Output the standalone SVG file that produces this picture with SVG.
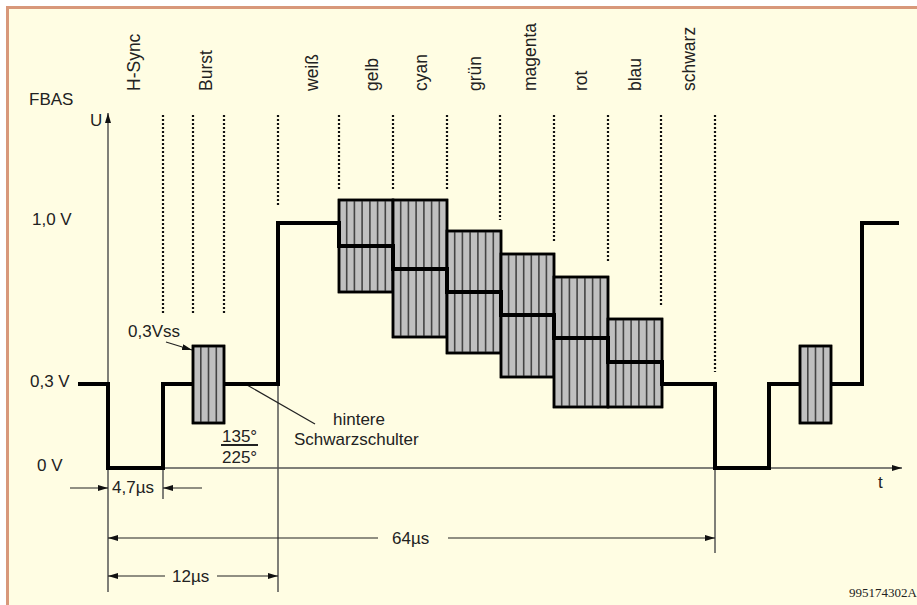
<svg xmlns="http://www.w3.org/2000/svg" width="917" height="605" viewBox="0 0 917 605">
<defs>
<style>
text{font-family:"Liberation Sans",Arial,sans-serif;fill:#222;font-size:17px}
.top{font-size:17.5px}
.dot{stroke:#111;stroke-width:2.2;stroke-dasharray:2 2;fill:none}
.axis{stroke:#555;stroke-width:1.5;fill:none}
.dim{stroke:#222;stroke-width:1.2;fill:none}
.box{fill:#c0c0c0;stroke:#000;stroke-width:2.5}
.str{stroke:#444;stroke-width:1.6}
.sig{stroke:#000;stroke-width:4;fill:none;stroke-linejoin:miter;stroke-linecap:butt}
</style>
<marker id="ah" viewBox="0 0 10 6" refX="10" refY="3" markerWidth="10" markerHeight="6" markerUnits="userSpaceOnUse" orient="auto">
<path d="M0,0 L10,3 L0,6 Z" fill="#111"/>
</marker>
<marker id="ahs" viewBox="0 0 10 6" refX="10" refY="3" markerWidth="10" markerHeight="6" markerUnits="userSpaceOnUse" orient="auto-start-reverse">
<path d="M0,0 L10,3 L0,6 Z" fill="#111"/>
</marker>
</defs>
<rect x="0" y="0" width="917" height="605" fill="#ffffff"/>
<rect x="7.5" y="7.5" width="920" height="610" fill="#fffde3" stroke="#d8987a" stroke-width="3"/>

<g id="labels">
<text x="29" y="105">FBAS</text>
<text x="90" y="126" font-size="16">U</text>
<text x="32" y="225">1,0 V</text>
<text x="30" y="387">0,3 V</text>
<text x="37" y="471">0 V</text>
<text x="878" y="488">t</text>
<g class="top">
<text class="top" transform="translate(140,91) rotate(-90)">H-Sync</text>
<text class="top" transform="translate(212,91) rotate(-90)">Burst</text>
<text class="top" transform="translate(318,91) rotate(-90)">weiß</text>
<text class="top" transform="translate(378,91) rotate(-90)">gelb</text>
<text class="top" transform="translate(427,91) rotate(-90)">cyan</text>
<text class="top" transform="translate(481,91) rotate(-90)">grün</text>
<text class="top" transform="translate(536,91) rotate(-90)">magenta</text>
<text class="top" transform="translate(587,91) rotate(-90)">rot</text>
<text class="top" transform="translate(641,91) rotate(-90)">blau</text>
<text class="top" transform="translate(695,91) rotate(-90)">schwarz</text>
</g>
<text x="128" y="337">0,3Vss</text>
<text x="222" y="442">135°</text>
<text x="222" y="463">225°</text>
<text x="333" y="425">hintere</text>
<text x="294" y="445">Schwarzschulter</text>
<text x="112" y="493">4,7µs</text>
<text x="392" y="544">64µs</text>
<text x="172" y="582">12µs</text>
<text x="849" y="597" style="font-family:'Liberation Serif','Times New Roman',serif;font-size:13px">995174302A</text>
</g>

<g id="dotted">
<line class="dot" x1="163" y1="115" x2="163" y2="315"/>
<line class="dot" x1="193" y1="115" x2="193" y2="315"/>
<line class="dot" x1="224" y1="115" x2="224" y2="315"/>
<line class="dot" x1="278" y1="115" x2="278" y2="205"/>
<line class="dot" x1="339" y1="115" x2="339" y2="189"/>
<line class="dot" x1="393" y1="115" x2="393" y2="189"/>
<line class="dot" x1="447" y1="115" x2="447" y2="190"/>
<line class="dot" x1="500" y1="115" x2="500" y2="220"/>
<line class="dot" x1="554" y1="115" x2="554" y2="243"/>
<line class="dot" x1="608" y1="115" x2="608" y2="263"/>
<line class="dot" x1="661" y1="115" x2="661" y2="307"/>
<line class="dot" x1="715" y1="115" x2="715" y2="372"/>
</g>

<g id="connectors">
<line class="axis" x1="108" y1="592" x2="108" y2="113" marker-end="url(#ah)"/>
<line class="axis" x1="108" y1="468" x2="902" y2="468" marker-end="url(#ah)"/>
<line class="axis" x1="163" y1="468" x2="163" y2="499"/>
<line class="axis" x1="278" y1="384" x2="278" y2="592"/>
<line class="axis" x1="715" y1="468" x2="715" y2="553"/>
<line class="dim" x1="70" y1="488" x2="108" y2="488" marker-end="url(#ah)"/>
<line class="dim" x1="202" y1="488" x2="163" y2="488" marker-end="url(#ah)"/>
<line class="dim" x1="378" y1="538" x2="108" y2="538" marker-end="url(#ah)"/>
<line class="dim" x1="448" y1="538" x2="715" y2="538" marker-end="url(#ah)"/>
<line class="dim" x1="165" y1="576" x2="108" y2="576" marker-end="url(#ah)"/>
<line class="dim" x1="217" y1="576" x2="278" y2="576" marker-end="url(#ah)"/>
<line class="dim" x1="166" y1="342" x2="192" y2="350" marker-end="url(#ah)"/>
<line class="dim" x1="247" y1="385" x2="315" y2="424"/>
<line x1="221" y1="445" x2="258" y2="445" stroke="#222" stroke-width="2"/>
</g>

<g id="colorbars">
<g id="bar-gelb">
<rect class="box" x="339" y="200" width="54" height="92"/>
<path class="str" d="M346.7,201V291M354.4,201V291M362.1,201V291M369.9,201V291M377.6,201V291M385.3,201V291"/>
<rect x="339" y="200" width="54" height="92" fill="none" stroke="#000" stroke-width="2.5"/>
</g>
<g id="bar-cyan">
<rect class="box" x="393" y="200" width="54" height="137"/>
<path class="str" d="M400.7,201V336M408.4,201V336M416.1,201V336M423.9,201V336M431.6,201V336M439.3,201V336"/>
<rect x="393" y="200" width="54" height="137" fill="none" stroke="#000" stroke-width="2.5"/>
</g>
<g id="bar-gruen">
<rect class="box" x="447" y="231" width="54" height="122"/>
<path class="str" d="M454.7,232V352M462.4,232V352M470.1,232V352M477.9,232V352M485.6,232V352M493.3,232V352"/>
<rect x="447" y="231" width="54" height="122" fill="none" stroke="#000" stroke-width="2.5"/>
</g>
<g id="bar-magenta">
<rect class="box" x="501" y="254" width="53" height="123"/>
<path class="str" d="M508.6,255V376M516.1,255V376M523.7,255V376M531.3,255V376M538.9,255V376M546.4,255V376"/>
<rect x="501" y="254" width="53" height="123" fill="none" stroke="#000" stroke-width="2.5"/>
</g>
<g id="bar-rot">
<rect class="box" x="554" y="277" width="54" height="130"/>
<path class="str" d="M561.7,278V406M569.4,278V406M577.1,278V406M584.9,278V406M592.6,278V406M600.3,278V406"/>
<rect x="554" y="277" width="54" height="130" fill="none" stroke="#000" stroke-width="2.5"/>
</g>
<g id="bar-blau">
<rect class="box" x="608" y="319" width="54" height="88"/>
<path class="str" d="M615.7,320V406M623.4,320V406M631.1,320V406M638.9,320V406M646.6,320V406M654.3,320V406"/>
<rect x="608" y="319" width="54" height="88" fill="none" stroke="#000" stroke-width="2.5"/>
</g>
</g>

<g id="signal">
<path class="sig" d="M78,384 H108 V468 H163 V384 H278 V223 H339 V246 H393 V269 H447 V292 H501 V315 H554 V338 H608 V362 H662 V384 H715 V468 H769 V384 H862 V223 H899"/>
</g>

<g id="burst1">
<rect class="box" x="193" y="346" width="31" height="77"/>
<path class="str" d="M200.8,347V422M208.5,347V422M216.3,347V422"/>
<rect x="193" y="346" width="31" height="77" fill="none" stroke="#000" stroke-width="2.5"/>
</g>
<g id="burst2">
<rect class="box" x="800" y="346" width="31" height="77"/>
<path class="str" d="M807.8,347V422M815.5,347V422M823.3,347V422"/>
<rect x="800" y="346" width="31" height="77" fill="none" stroke="#000" stroke-width="2.5"/>
</g>
</svg>
